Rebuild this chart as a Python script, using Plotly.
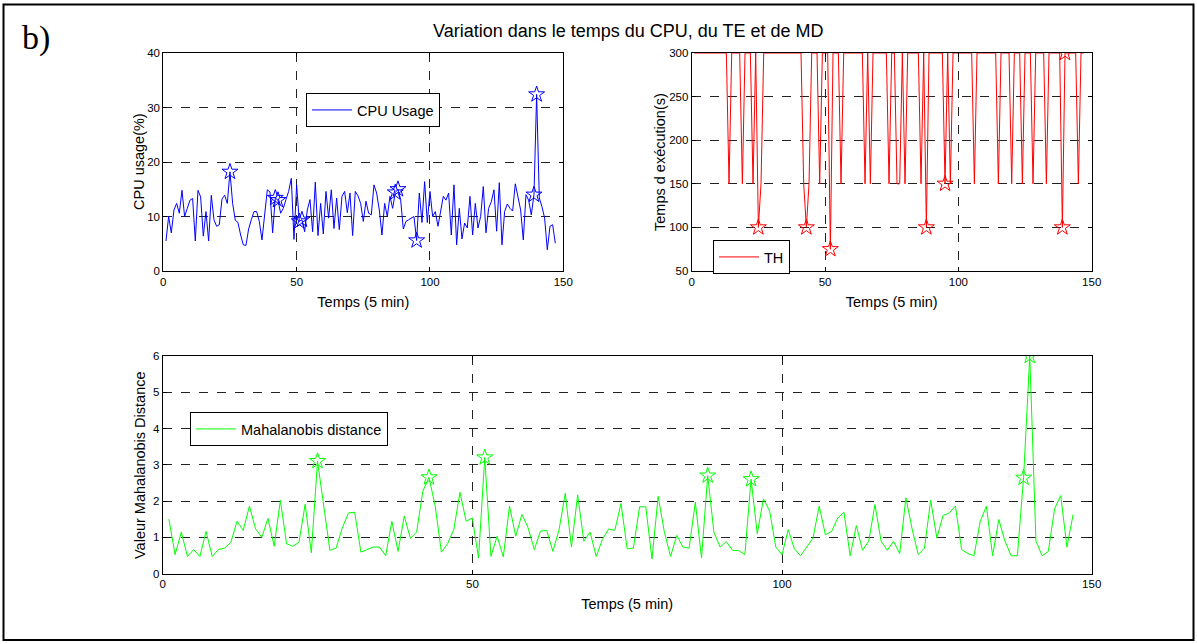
import plotly.graph_objects as go

W, H = 1197, 644

time_idx = list(range(1, 148))

cpu_usage = [5.5, 10, 7, 11.2, 12.4, 10.6, 14.8, 10, 11.5, 13,
             13.3, 5.5, 14.8, 13.6, 6.4, 10.9, 5.5, 13.9, 9.4, 8.2,
             8.5, 13.2, 13.9, 12.4, 18.2, 12.4, 9.3, 8.9, 6.6, 4.8,
             4.7, 7.7, 9.4, 10.9, 10.9, 9.1, 5.7, 10.9, 14.9, 14.5,
             7.0, 13.4, 13.0, 10.6, 11.5, 13.1, 14.6, 17.0, 5.8, 15.8,
             9.1, 9.4, 7.2, 11.2, 13.1, 7.2, 16.3, 6.5, 12.4, 6.8,
             14.6, 9.7, 14.9, 7.8, 13.4, 7.6, 13.7, 14.6, 10.7, 14.3,
             6.5, 14.6, 13.8, 12.4, 9.1, 12.8, 10.6, 10.3, 15.8, 14.3,
             11.2, 6.6, 12.4, 10.0, 13.7, 11.5, 14.4, 15.0, 13.1, 7.7,
             9.1, 9.4, 9.7, 10.0, 5.6, 14.3, 8.9, 16.4, 8.9, 14.6,
             10.0, 10.9, 8.2, 11.0, 13.7, 13.0, 14.3, 6.6, 15.8, 4.8,
             11.5, 5.9, 8.8, 7.9, 13.7, 6.6, 12.4, 7.9, 10.0, 15.5,
             7.0, 11.5, 12.7, 14.9, 7.3, 16.2, 4.8, 10.9, 12.3, 11.5,
             11.0, 16.0, 13.7, 11.2, 5.7, 14.0, 13.0, 10.3, 14.0, 32.4,
             13.4, 11.8, 9.7, 3.9, 8.2, 8.5, 5.1]

th_exec = [300, 300, 300, 300, 300, 300, 300, 300, 300, 300,
           300, 300, 300, 150, 300, 300, 300, 300, 150, 300,
           300, 300, 150, 300, 100, 150, 300, 300, 300, 300,
           300, 300, 300, 300, 300, 300, 300, 300, 300, 300,
           300, 150, 100, 150, 300, 300, 300, 150, 300, 300,
           300, 75, 300, 300, 300, 150, 300, 300, 300, 300,
           300, 300, 300, 300, 150, 300, 150, 300, 300, 300,
           300, 300, 300, 150, 300, 300, 150, 150, 300, 150,
           300, 300, 300, 300, 300, 150, 300, 100, 300, 300,
           300, 300, 300, 300, 150, 300, 150, 300, 300, 300,
           300, 300, 300, 300, 300, 150, 300, 300, 300, 300,
           300, 300, 300, 300, 150, 300, 300, 300, 300, 150,
           300, 300, 300, 150, 300, 300, 300, 150, 300, 300,
           300, 300, 150, 300, 300, 300, 300, 300, 100, 300,
           300, 300, 300, 300, 150, 300, 300]

md_dist = [1.5, 0.52, 1.14, 0.47, 0.66, 0.47, 1.16, 0.47, 0.66, 0.7,
           0.86, 1.44, 1.19, 1.86, 1.23, 1.0, 1.52, 0.75, 2.02, 0.82,
           0.75, 0.86, 1.91, 0.57, 3.1, 1.86, 0.64, 0.7, 1.26, 1.67,
           1.69, 0.59, 0.66, 0.73, 0.73, 0.49, 1.44, 0.61, 1.58, 0.97,
           1.14, 2.27, 2.65, 1.86, 0.59, 0.82, 1.21, 2.24, 1.44, 1.53,
           0.43, 3.2, 0.47, 1.03, 0.46, 1.86, 1.03, 1.63, 1.26, 0.66,
           1.17, 1.19, 0.61, 1.21, 2.21, 0.73, 2.17, 0.89, 1.14, 0.47,
           0.94, 1.23, 1.19, 1.93, 0.68, 0.7, 1.84, 1.84, 0.4, 2.13,
           1.14, 0.47, 1.05, 0.73, 0.7, 1.97, 0.43, 2.7, 1.14, 0.73,
           0.88, 0.64, 0.63, 0.52, 2.6, 1.1, 2.06, 1.72, 0.73, 0.52,
           1.21, 0.68, 0.49, 0.75, 0.98, 1.86, 1.07, 1.16, 1.53, 1.69,
           0.49, 1.32, 0.64, 0.89, 1.9, 0.89, 0.64, 0.89, 0.55, 2.09,
           1.23, 0.52, 0.7, 2.02, 0.98, 1.6, 1.67, 1.86, 0.66, 0.55,
           0.49, 1.44, 1.86, 0.49, 1.49, 0.89, 0.49, 0.49, 2.64, 6.0,
           0.89, 0.49, 0.61, 1.78, 2.15, 0.73, 1.63]

cpu_anomalies = [25, 42, 43, 51, 52, 87, 88, 95, 139, 140]
th_anomalies = [25, 43, 52, 88, 95, 139, 140]
md_anomalies = [25, 43, 52, 88, 95, 139, 140]

x_ticks = [0, 50, 100, 150]
cpu_ticks = [0, 10, 20, 30, 40]
th_ticks = [50, 100, 150, 200, 250, 300]
md_ticks = [0, 1, 2, 3, 4, 5, 6]

FONT = "Liberation Sans, Arial, sans-serif"


def px_x(p):
    return p / W


def px_y(p):
    return 1 - p / H


fig = go.Figure()


def add_series(xa, ya, y, anomalies, color, name, legend):
    fig.add_trace(go.Scatter(
        x=time_idx, y=y, mode="lines", name=name,
        line=dict(color=color, width=1),
        xaxis=xa, yaxis=ya, legend=legend, showlegend=True))
    fig.add_trace(go.Scatter(
        x=anomalies, y=[y[i - 1] for i in anomalies], mode="markers",
        marker=dict(symbol="star-open", size=12, color=color,
                    line=dict(color=color, width=1)),
        xaxis=xa, yaxis=ya, showlegend=False, hoverinfo="skip"))


add_series("x", "y", cpu_usage, cpu_anomalies, "#0000FF", "CPU Usage", "legend")
add_series("x2", "y2", th_exec, th_anomalies, "#FF0000", "TH", "legend2")
add_series("x3", "y3", md_dist, md_anomalies, "#00FF00", "Mahalanobis distance", "legend3")

axis_common = dict(
    showline=True, linecolor="black", linewidth=1, mirror="ticks",
    ticks="inside", ticklen=4, tickcolor="black",
    showgrid=True, gridcolor="#222222", gridwidth=1, griddash="dash",
    zeroline=False, automargin=False,
    tickfont=dict(family=FONT, size=11.5, color="black"),
)
title_font = dict(family=FONT, size=14.5, color="black")
legend_font = dict(family=FONT, size=14.5, color="black")


def ytitle(text, xpix, ymid):
    return dict(text=text, x=px_x(xpix), y=px_y(ymid), xref="paper", yref="paper",
                showarrow=False, textangle=-90, xanchor="center", yanchor="middle",
                font=title_font)


fig.update_layout(
    width=W, height=H,
    margin=dict(l=0, r=0, t=0, b=0),
    paper_bgcolor="white", plot_bgcolor="white",
    font=dict(family=FONT, color="black"),
    xaxis=dict(domain=[px_x(163.3), px_x(563.3)], range=[0, 150], tickvals=x_ticks,
               anchor="y", title=dict(text="Temps (5 min)", font=title_font, standoff=10),
               **axis_common),
    yaxis=dict(domain=[px_y(271), px_y(53)], range=[0, 40], tickvals=cpu_ticks,
               anchor="x", **axis_common),
    xaxis2=dict(domain=[px_x(691.7), px_x(1091.7)], range=[0, 150], tickvals=x_ticks,
                anchor="y2", title=dict(text="Temps (5 min)", font=title_font, standoff=10),
                **axis_common),
    yaxis2=dict(domain=[px_y(271), px_y(53)], range=[50, 300], tickvals=th_ticks,
                anchor="x2", **axis_common),
    xaxis3=dict(domain=[px_x(162.7), px_x(1091.7)], range=[0, 150], tickvals=x_ticks,
                anchor="y3", title=dict(text="Temps (5 min)", font=title_font, standoff=9),
                **axis_common),
    yaxis3=dict(domain=[px_y(573.5), px_y(356)], range=[0, 6], tickvals=md_ticks,
                anchor="x3", **axis_common),
    legend=dict(x=px_x(306), y=px_y(93), xanchor="left", yanchor="top",
                bgcolor="white", bordercolor="black", borderwidth=1,
                font=legend_font, itemwidth=40),
    legend2=dict(x=px_x(713), y=px_y(240), xanchor="left", yanchor="top",
                 bgcolor="white", bordercolor="black", borderwidth=1,
                 font=legend_font, itemwidth=40),
    legend3=dict(x=px_x(190), y=px_y(412), xanchor="left", yanchor="top",
                 bgcolor="white", bordercolor="black", borderwidth=1,
                 font=legend_font, itemwidth=40),
    annotations=[
        dict(text="Variation dans le temps du CPU, du TE et de MD", x=px_x(628), y=px_y(31),
             xref="paper", yref="paper", showarrow=False, xanchor="center", yanchor="middle",
             font=dict(family=FONT, size=18, color="black")),
        dict(text="b)", x=px_x(20), y=px_y(38), xref="paper", yref="paper", showarrow=False,
             xanchor="left", yanchor="middle",
             font=dict(family="Liberation Serif, Times New Roman, serif", size=34, color="black")),
        ytitle("CPU usage(%)", 139, 162),
        ytitle("Temps d exécution(s)", 660, 162),
        ytitle("Valeur Mahalanobis Distance", 140, 465),
    ],
    shapes=[
        dict(type="rect", xref="paper", yref="paper", x0=px_x(3.5), x1=px_x(1193.5),
             y0=px_y(640), y1=px_y(4.5), line=dict(color="black", width=2)),
    ],
)

fig.write_html("out.html", config={"displayModeBar": False},
               post_script="document.body.style.margin='0';document.body.style.overflow='hidden';")
